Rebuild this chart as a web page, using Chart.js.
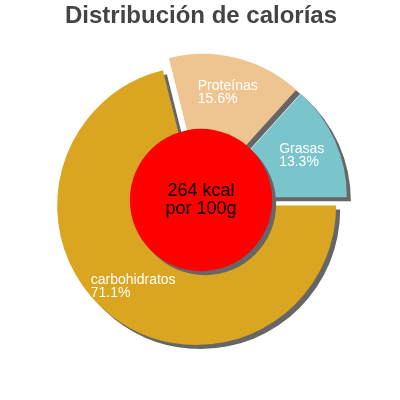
<!DOCTYPE html>
<html>
<head>
<meta charset="utf-8">
<script src="https://cdn.jsdelivr.net/npm/chart.js@4"></script>
<style>
  html, body { margin: 0; padding: 0; background: #fff; }
  #wrap { width: 400px; height: 400px; }
</style>
</head>
<body>
<div id="wrap"><canvas id="pie"></canvas></div>
<script>
// Calorie split per 100 g (percent of total energy)
const LABELS = ['carbohidratos', 'Proteínas', 'Grasas'];
const VALUES = [71.1, 15.6, 13.3];
const COLORS = ['#DAA520', '#EEC591', '#7AC4CC'];
const TOTAL_KCAL = 264;
const CENTER_LINES = [`${TOTAL_KCAL} kcal`, 'por 100g'];

const SLICE_SHIFT = 7;      // exploded slices, px
const SHADOW = '#666666';

function withShadow(ctx) {
  ctx.shadowColor = SHADOW;
  ctx.shadowBlur = 0;
  ctx.shadowOffsetX = 4;
  ctx.shadowOffsetY = 4;
}

// Shift every arc out along its bisector (without growing the big slice), with a hard drop shadow
const explode = {
  id: 'explode',
  afterUpdate(chart) {
    chart.getDatasetMeta(0).data.forEach(arc => {
      if (arc._wrapped) return;
      const base = arc.draw;
      arc.draw = function (ctx, area) {
        const mid = (this.startAngle + this.endAngle) / 2;
        ctx.save();
        withShadow(ctx);
        ctx.translate(Math.cos(mid) * SLICE_SHIFT, Math.sin(mid) * SLICE_SHIFT);
        base.call(this, ctx, area);
        ctx.restore();
      };
      arc._wrapped = true;
    });
  },
  afterDatasetsDraw(chart) {
    const { ctx } = chart;
    const arcs = chart.getDatasetMeta(0).data;
    if (!arcs.length) return;
    const { x, y, outerRadius } = arcs[0];

    // red centre disc
    ctx.save();
    withShadow(ctx);
    ctx.fillStyle = '#FF0000';
    ctx.beginPath();
    ctx.arc(x, y, outerRadius * 0.51, 0, Math.PI * 2);
    ctx.fill();
    ctx.restore();

    ctx.save();
    ctx.fillStyle = '#000';
    ctx.font = '18px "Liberation Sans", Arial, sans-serif';
    ctx.textAlign = 'center';
    ctx.textBaseline = 'middle';
    ctx.fillText(CENTER_LINES[0], x, y - 9);
    ctx.fillText(CENTER_LINES[1], x, y + 9);
    ctx.restore();

    // slice labels: left-aligned block centred on the bisector
    const total = VALUES.reduce((s, v) => s + v, 0);
    ctx.save();
    ctx.fillStyle = '#fff';
    ctx.font = '14px "Liberation Sans", Arial, sans-serif';
    ctx.textAlign = 'left';
    ctx.textBaseline = 'middle';
    arcs.forEach((arc, i) => {
      const mid = (arc.startAngle + arc.endAngle) / 2;
      const r = arc.outerRadius * 0.79;
      const cx = arc.x + Math.cos(mid) * r;
      const cy = arc.y + Math.sin(mid) * r;
      const lines = [LABELS[i], `${(VALUES[i] / total * 100).toFixed(1)}%`];
      const w = Math.max(...lines.map(l => ctx.measureText(l).width));
      ctx.fillText(lines[0], cx - w / 2, cy - 6.5);
      ctx.fillText(lines[1], cx - w / 2, cy + 6.5);
    });
    ctx.restore();
  }
};

new Chart(document.getElementById('pie'), {
  type: 'pie',
  data: {
    labels: LABELS,
    datasets: [{ data: VALUES, backgroundColor: COLORS, borderWidth: 0 }]
  },
  options: {
    responsive: true,
    maintainAspectRatio: false,
    animation: false,
    events: [],
    rotation: 90,
    radius: 139.5,
    layout: { padding: { top: 0, bottom: 34.8, left: 2, right: 0 } },
    plugins: {
      legend: { display: false },
      tooltip: { enabled: false },
      title: {
        display: true,
        text: 'Distribución de calorías',
        color: '#444444',
        font: { family: '"Liberation Sans", Arial, sans-serif', size: 24, weight: 'bold', lineHeight: 1.2 },
        padding: { top: 2, bottom: 4 }
      }
    }
  },
  plugins: [explode]
});
</script>
</body>
</html>
